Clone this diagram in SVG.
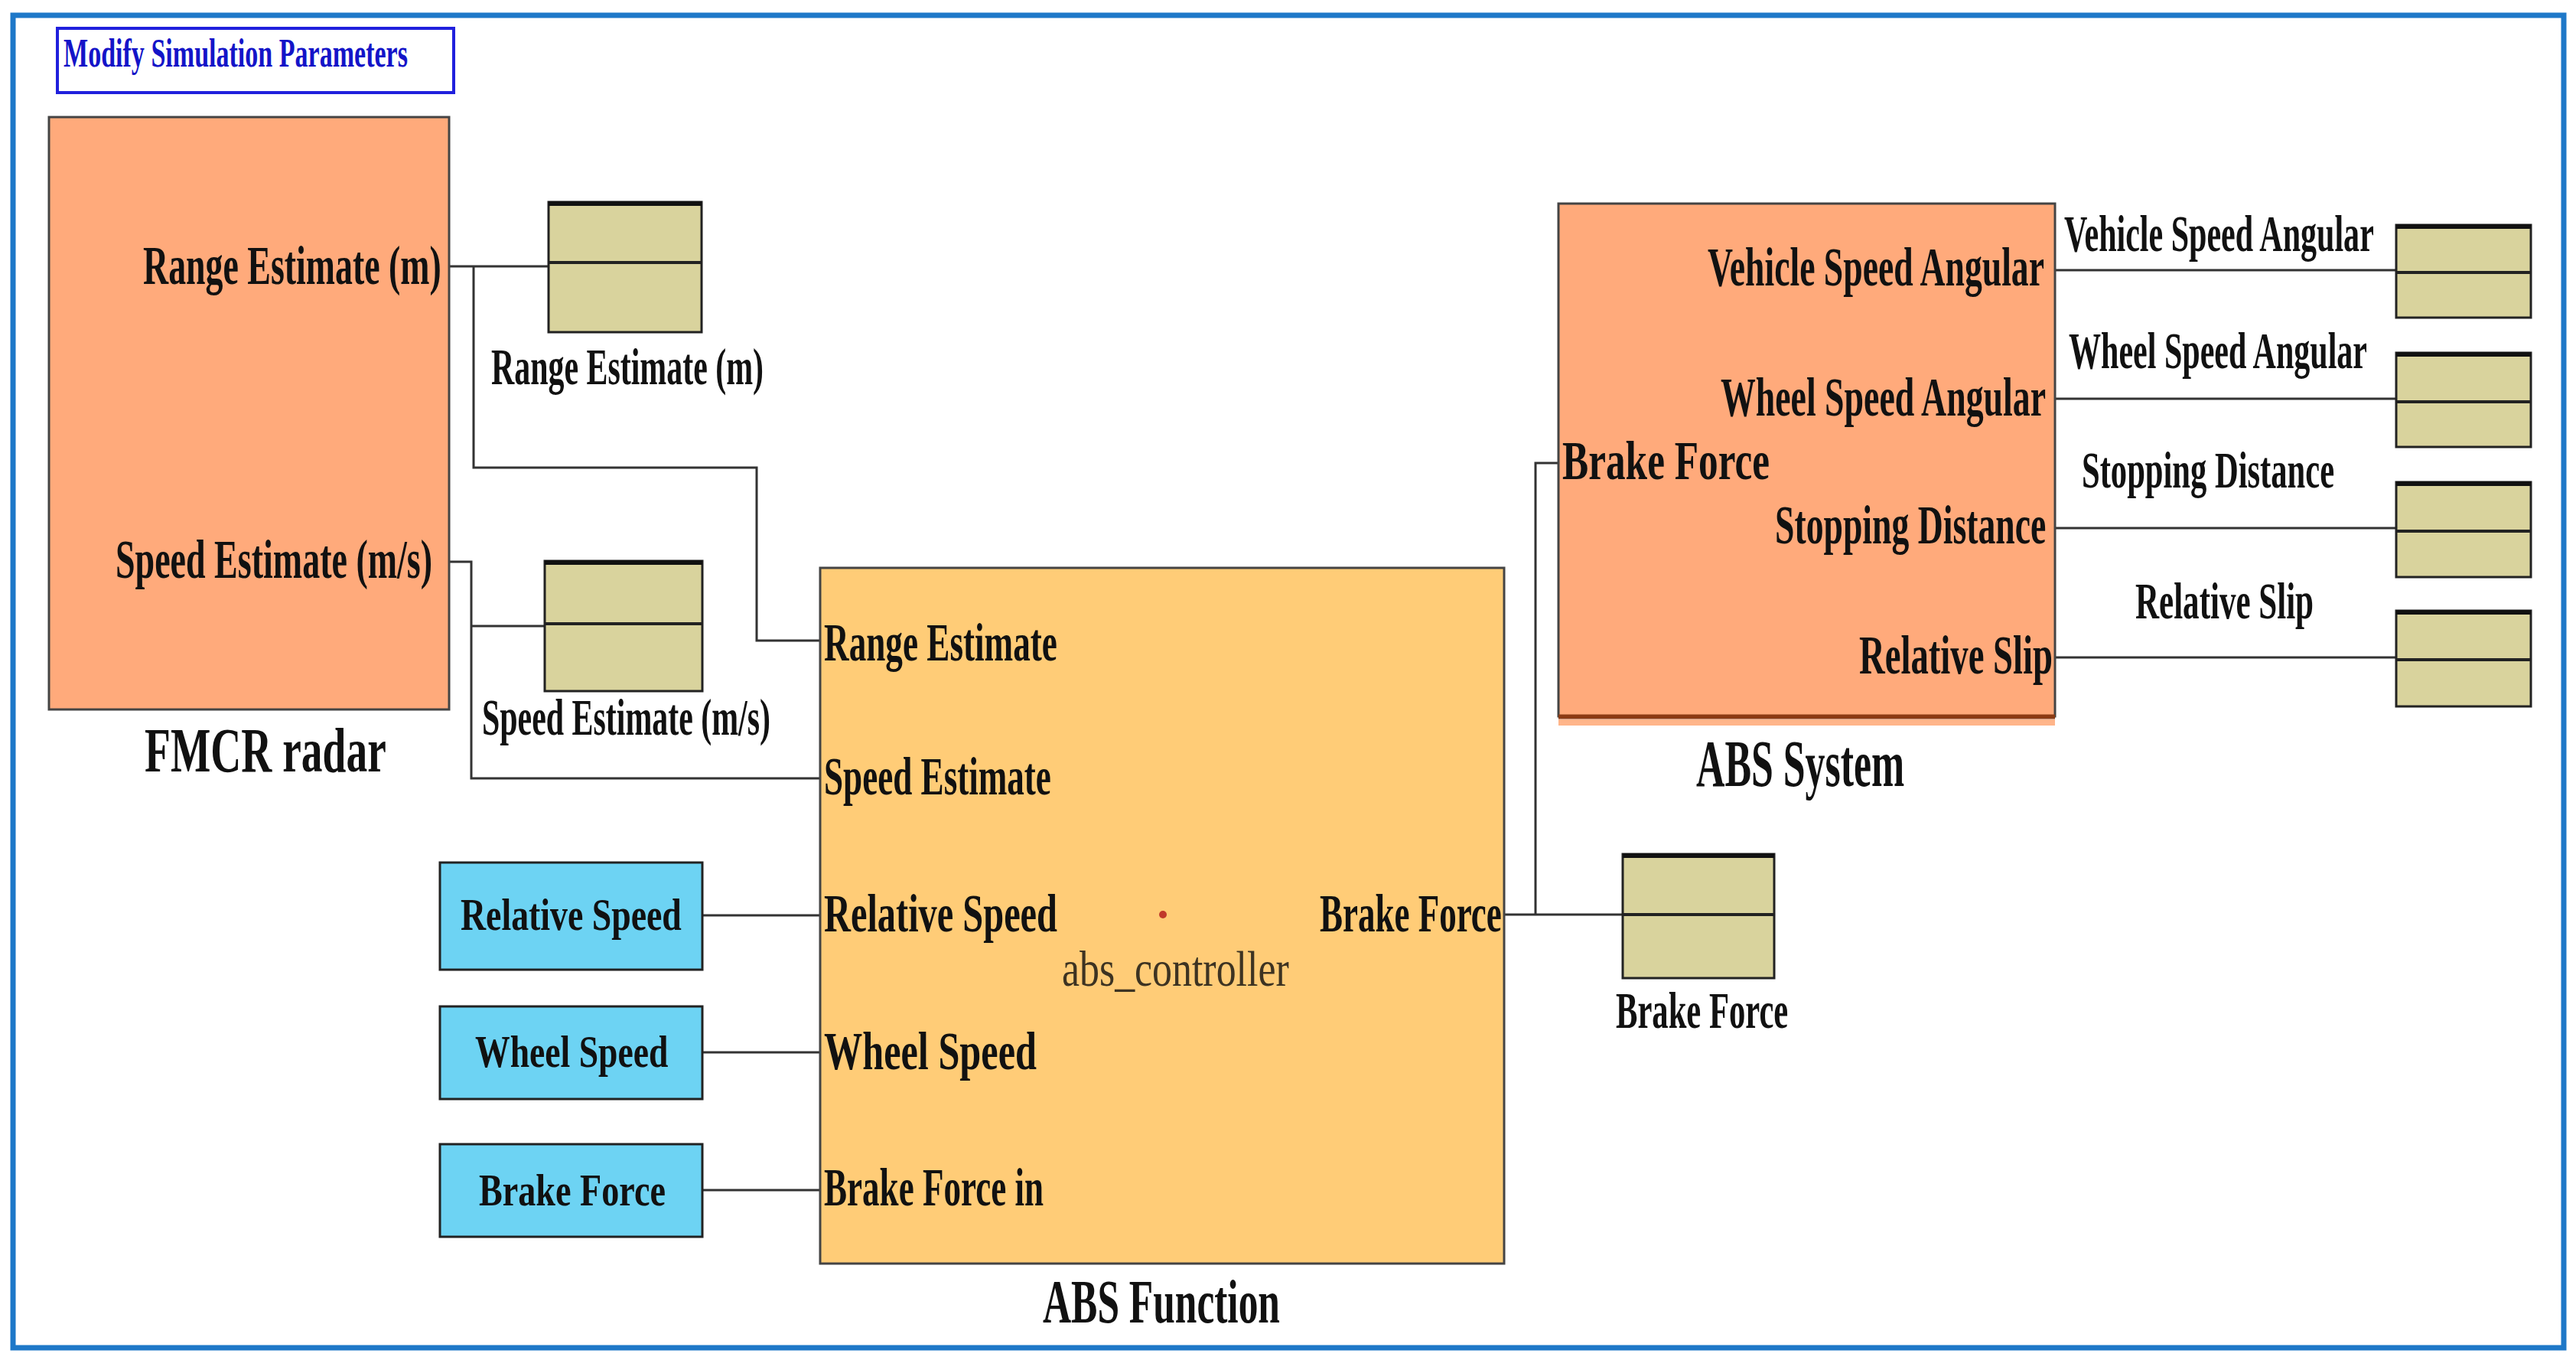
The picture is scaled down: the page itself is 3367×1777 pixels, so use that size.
<svg xmlns="http://www.w3.org/2000/svg" width="3367" height="1777" viewBox="0 0 3367 1777">
<style>
.t{font-family:"Liberation Serif","Times New Roman",serif;font-weight:bold;fill:#111}
.r{font-family:"Liberation Serif","Times New Roman",serif;font-weight:normal;fill:#3d3322}
.blk{stroke:#444;stroke-width:3}
.salmon{fill:#FFAA7B}
.abs{fill:#FFCC77}
.cyan{fill:#6DD3F3;stroke:#222;stroke-width:3}
.scope{fill:#D9D39D;stroke:#222;stroke-width:3}
.scopetop{stroke:#111;stroke-width:6}
.scopemid{stroke:#222;stroke-width:4}
.wire{fill:none;stroke:#333;stroke-width:3}
</style>
<rect x="0" y="0" width="3367" height="1777" fill="#fff"/>
<rect id="frame" x="17" y="20" width="3334" height="1741" fill="none" stroke="#1E78C8" stroke-width="7"/>

<g id="modify-params">
<rect x="75" y="37" width="518" height="84" fill="#fff" stroke="#2020DD" stroke-width="4"/>
<text transform="translate(83,87) scale(0.655,1)" font-size="52" textLength="687" lengthAdjust="spacingAndGlyphs" class="t" style="fill:#1414C8">Modify Simulation Parameters</text>
</g>

<g id="connectors">
<path class="wire" d="M587,348 H717 M619,348 V611 H989 V837 H1072"/>
<path class="wire" d="M587,734 H616 V1017 H1072 M616,818 H712"/>
<path class="wire" d="M918,1196 H1072 M918,1375 H1072 M918,1555 H1072"/>
<path class="wire" d="M1966,1195 H2121 M2007,1195 V605 H2037"/>
<path class="wire" d="M2686,353 H3132 M2686,521 H3132 M2686,690 H3132 M2686,859 H3132"/>
</g>

<g id="fmcr-radar">
<rect x="64" y="153" width="523" height="774" class="salmon blk"/>
<text transform="translate(187,371) scale(0.637,1)" font-size="72" textLength="612" lengthAdjust="spacingAndGlyphs" class="t">Range Estimate (m)</text>
<text transform="translate(151,755) scale(0.639,1)" font-size="72" textLength="648" lengthAdjust="spacingAndGlyphs" class="t">Speed Estimate (m/s)</text>
<text transform="translate(189,1008) scale(0.669,1)" font-size="83" textLength="472" lengthAdjust="spacingAndGlyphs" class="t">FMCR radar</text>
</g>

<g id="scope-range">
<rect x="717" y="264" width="200" height="170" class="scope"/>
<line x1="717" y1="266" x2="917" y2="266" class="scopetop"/>
<line x1="717" y1="343" x2="917" y2="343" class="scopemid"/>
<text transform="translate(642,502) scale(0.616,1)" font-size="68" textLength="578" lengthAdjust="spacingAndGlyphs" class="t">Range Estimate (m)</text>
</g>

<g id="scope-speed">
<rect x="712" y="733" width="206" height="170" class="scope"/>
<line x1="712" y1="735" x2="918" y2="735" class="scopetop"/>
<line x1="712" y1="815" x2="918" y2="815" class="scopemid"/>
<text transform="translate(630,960) scale(0.616,1)" font-size="68" textLength="612" lengthAdjust="spacingAndGlyphs" class="t">Speed Estimate (m/s)</text>
</g>

<g id="src-relative-speed">
<rect x="575" y="1127" width="343" height="140" class="cyan"/>
<text transform="translate(602,1215) scale(0.764,1)" font-size="60" textLength="378" lengthAdjust="spacingAndGlyphs" class="t">Relative Speed</text>
</g>
<g id="src-wheel-speed">
<rect x="575" y="1315" width="343" height="121" class="cyan"/>
<text transform="translate(621,1394) scale(0.76,1)" font-size="60" textLength="332" lengthAdjust="spacingAndGlyphs" class="t">Wheel Speed</text>
</g>
<g id="src-brake-force">
<rect x="575" y="1495" width="343" height="121" class="cyan"/>
<text transform="translate(626,1575) scale(0.767,1)" font-size="60" textLength="318" lengthAdjust="spacingAndGlyphs" class="t">Brake Force</text>
</g>

<g id="abs-function">
<rect x="1072" y="742" width="894" height="909" class="abs blk"/>
<text transform="translate(1077,863) scale(0.646,1)" font-size="70" textLength="472" lengthAdjust="spacingAndGlyphs" class="t">Range Estimate</text>
<text transform="translate(1077,1038) scale(0.644,1)" font-size="70" textLength="461" lengthAdjust="spacingAndGlyphs" class="t">Speed Estimate</text>
<text transform="translate(1077,1217) scale(0.69,1)" font-size="70" textLength="442" lengthAdjust="spacingAndGlyphs" class="t">Relative Speed</text>
<text transform="translate(1077,1397) scale(0.72,1)" font-size="70" textLength="386" lengthAdjust="spacingAndGlyphs" class="t">Wheel Speed</text>
<text transform="translate(1077,1575) scale(0.642,1)" font-size="70" textLength="447" lengthAdjust="spacingAndGlyphs" class="t">Brake Force in</text>
<text transform="translate(1725,1217) scale(0.641,1)" font-size="70" textLength="371" lengthAdjust="spacingAndGlyphs" class="t">Brake Force</text>
<circle cx="1520" cy="1195" r="5" fill="#c0392b"/>
<text transform="translate(1388,1288) scale(0.787,1)" font-size="66" textLength="377" lengthAdjust="spacingAndGlyphs" class="r">abs_controller</text>
<text transform="translate(1363,1728) scale(0.643,1)" font-size="80" textLength="482" lengthAdjust="spacingAndGlyphs" class="t">ABS Function</text>
</g>

<g id="scope-brake-force">
<rect x="2121" y="1116" width="198" height="162" class="scope"/>
<line x1="2121" y1="1118" x2="2319" y2="1118" class="scopetop"/>
<line x1="2121" y1="1195" x2="2319" y2="1195" class="scopemid"/>
<text transform="translate(2112,1343) scale(0.624,1)" font-size="68" textLength="361" lengthAdjust="spacingAndGlyphs" class="t">Brake Force</text>
</g>

<g id="abs-system">
<rect x="2037" y="266" width="649" height="670" class="salmon blk"/>
<line x1="2037" y1="936.5" x2="2686" y2="936.5" stroke="#8B3B14" stroke-width="6"/>
<rect x="2037" y="940" width="649" height="8" fill="#FFB58A"/>
<text transform="translate(2232,373) scale(0.634,1)" font-size="71" textLength="694" lengthAdjust="spacingAndGlyphs" class="t">Vehicle Speed Angular</text>
<text transform="translate(2249,543) scale(0.641,1)" font-size="71" textLength="663" lengthAdjust="spacingAndGlyphs" class="t">Wheel Speed Angular</text>
<text transform="translate(2042,626) scale(0.719,1)" font-size="71" textLength="377" lengthAdjust="spacingAndGlyphs" class="t">Brake Force</text>
<text transform="translate(2320,710) scale(0.643,1)" font-size="71" textLength="551" lengthAdjust="spacingAndGlyphs" class="t">Stopping Distance</text>
<text transform="translate(2430,880) scale(0.657,1)" font-size="71" textLength="385" lengthAdjust="spacingAndGlyphs" class="t">Relative Slip</text>
<text transform="translate(2217,1027) scale(0.602,1)" font-size="86" textLength="452" lengthAdjust="spacingAndGlyphs" class="t">ABS System</text>
</g>

<g id="scope-vehicle-speed-angular">
<rect x="3132" y="294" width="176" height="121" class="scope"/>
<line x1="3132" y1="296" x2="3308" y2="296" class="scopetop"/>
<line x1="3132" y1="356" x2="3308" y2="356" class="scopemid"/>
<text transform="translate(2698,328) scale(0.618,1)" font-size="67" textLength="655" lengthAdjust="spacingAndGlyphs" class="t">Vehicle Speed Angular</text>
</g>
<g id="scope-wheel-speed-angular">
<rect x="3132" y="461" width="176" height="123" class="scope"/>
<line x1="3132" y1="463" x2="3308" y2="463" class="scopetop"/>
<line x1="3132" y1="525" x2="3308" y2="525" class="scopemid"/>
<text transform="translate(2704,481) scale(0.624,1)" font-size="67" textLength="625" lengthAdjust="spacingAndGlyphs" class="t">Wheel Speed Angular</text>
</g>
<g id="scope-stopping-distance">
<rect x="3132" y="630" width="176" height="124" class="scope"/>
<line x1="3132" y1="632" x2="3308" y2="632" class="scopetop"/>
<line x1="3132" y1="694" x2="3308" y2="694" class="scopemid"/>
<text transform="translate(2721,637) scale(0.636,1)" font-size="67" textLength="519" lengthAdjust="spacingAndGlyphs" class="t">Stopping Distance</text>
</g>
<g id="scope-relative-slip">
<rect x="3132" y="798" width="176" height="125" class="scope"/>
<line x1="3132" y1="800" x2="3308" y2="800" class="scopetop"/>
<line x1="3132" y1="862" x2="3308" y2="862" class="scopemid"/>
<text transform="translate(2791,808) scale(0.642,1)" font-size="67" textLength="363" lengthAdjust="spacingAndGlyphs" class="t">Relative Slip</text>
</g>
</svg>
